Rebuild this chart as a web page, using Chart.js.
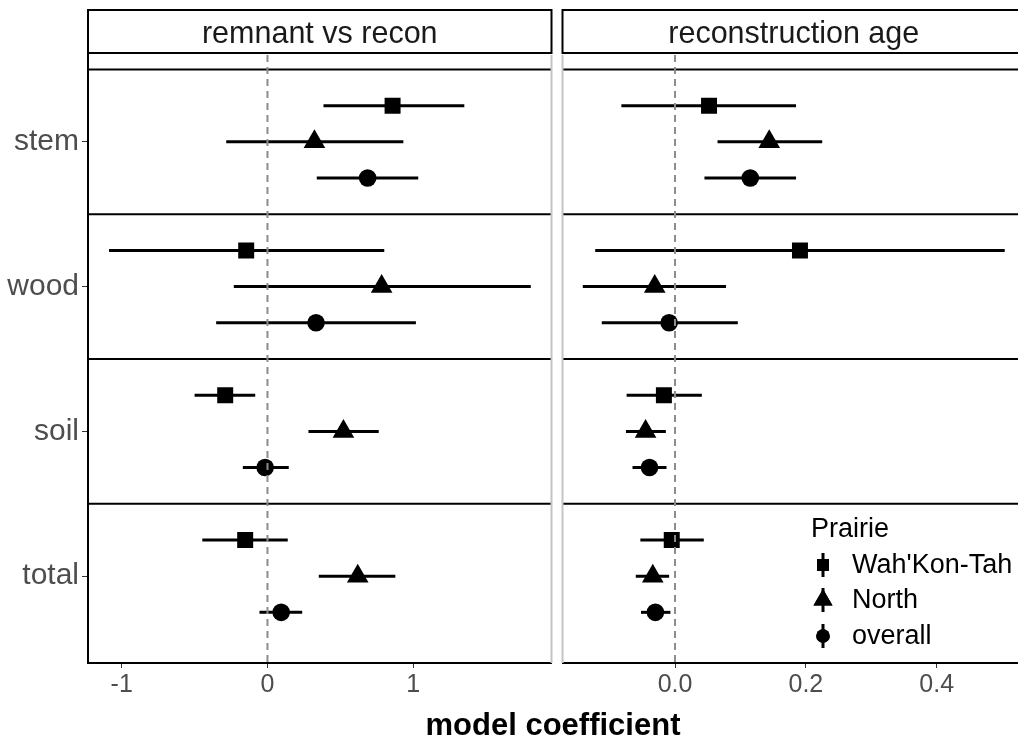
<!DOCTYPE html>
<html>
<head>
<meta charset="utf-8">
<title>model coefficient</title>
<script src="https://cdn.jsdelivr.net/npm/chart.js@4"></script>
<style>
  body { margin: 0; background: #fff; }
  #wrap { position: relative; width: 1018px; height: 742px; overflow: hidden; background: #fff; }
  #leftChart { position: absolute; left: 0; top: 0; }
  #rightChart { position: absolute; left: 553px; top: 0; }
  #xTitle {
    position: absolute; left: 353px; width: 400px; top: 709px;
    text-align: center; font: bold 31px 'Liberation Sans', Arial, sans-serif;
    line-height: 31px; color: #000;
  }
</style>
</head>
<body>
<div id="wrap">
  <canvas id="leftChart" width="553" height="742"></canvas>
  <canvas id="rightChart" width="475" height="742"></canvas>
  <div id="xTitle">model coefficient</div>
</div>
<script>
// Categories (top to bottom) and groups
const categories = ['stem', 'wood', 'soil', 'total'];
const categoryPos = [4, 3, 2, 1];
const prairies = ["Wah'Kon-Tah", 'North', 'overall'];

// remnant vs recon: estimate, lower, upper
const remWah = [0.858, -0.146, -0.290, -0.153];
const remWahLo = [0.384, -1.087, -0.500, -0.447];
const remWahHi = [1.350, 0.801, -0.084, 0.139];
const remNorth = [0.322, 0.783, 0.521, 0.619];
const remNorthLo = [-0.283, -0.231, 0.281, 0.352];
const remNorthHi = [0.932, 1.806, 0.763, 0.877];
const remAll = [0.687, 0.333, -0.016, 0.094];
const remAllLo = [0.338, -0.352, -0.169, -0.055];
const remAllHi = [1.034, 1.018, 0.146, 0.238];

// reconstruction age: estimate, lower, upper
const ageWah = [0.052, 0.191, -0.017, -0.005];
const ageWahLo = [-0.082, -0.122, -0.074, -0.053];
const ageWahHi = [0.185, 0.504, 0.041, 0.044];
const ageNorth = [0.144, -0.031, -0.045, -0.034];
const ageNorthLo = [0.065, -0.141, -0.075, -0.060];
const ageNorthHi = [0.225, 0.078, -0.014, -0.009];
const ageAll = [0.115, -0.009, -0.039, -0.030];
const ageAllLo = [0.045, -0.112, -0.065, -0.052];
const ageAllHi = [0.185, 0.096, -0.013, -0.007];

// tick labels
const remTicks = [-1, 0, 1];
const ageTicks = [0, 0.2, 0.4];

const FONT = "'Liberation Sans', Arial, sans-serif";
const dodge = [0.25, 0, -0.25];
const shapes = ['rect', 'triangle', 'circle'];
const radii = [11.3, 12.5, 8.8];
const separators = [1.5, 2.5, 3.5, 4.5];

function makeDatasets(values, lows, highs) {
    return prairies.map((name, k) => ({
        label: name,
        data: categories.map((c, i) => ({ x: values[k][i], y: categoryPos[i] + dodge[k] })),
        lo: lows[k],
        hi: highs[k],
        pointStyle: shapes[k],
        pointRadius: radii[k],
        pointHoverRadius: radii[k],
        backgroundColor: '#000',
        borderColor: '#000',
        borderWidth: 0
    }));
}

// Error bars, separators, zero line, strip and legend
const facetDecor = {
    id: 'facetDecor',
    beforeDatasetsDraw(chart) {
        const { ctx, scales: { x, y } } = chart;
        ctx.save();
        ctx.strokeStyle = '#000';
        ctx.lineWidth = 3;
        chart.data.datasets.forEach(ds => {
            ds.data.forEach((p, i) => {
                const py = y.getPixelForValue(p.y);
                ctx.beginPath();
                ctx.moveTo(x.getPixelForValue(ds.lo[i]), py);
                ctx.lineTo(x.getPixelForValue(ds.hi[i]), py);
                ctx.stroke();
            });
        });
        ctx.restore();
    },
    afterDatasetsDraw(chart, args, opts) {
        const { ctx, chartArea: a, scales: { x, y } } = chart;
        ctx.save();
        ctx.strokeStyle = '#000';
        ctx.lineWidth = 2;
        separators.forEach(v => {
            const py = y.getPixelForValue(v);
            ctx.beginPath();
            ctx.moveTo(a.left, py);
            ctx.lineTo(a.right, py);
            ctx.stroke();
        });

        // panel edges
        ctx.strokeStyle = '#c4c4c4';
        ctx.beginPath();
        if (opts.edge === 'right') {
            ctx.moveTo(a.right, a.top);
            ctx.lineTo(a.right, a.bottom);
        } else {
            ctx.moveTo(a.left, a.top);
            ctx.lineTo(a.left, a.bottom);
        }
        ctx.stroke();

        // dashed zero line
        const px = x.getPixelForValue(0);
        ctx.strokeStyle = '#8c8c8c';
        ctx.setLineDash([7, 5]);
        ctx.beginPath();
        ctx.moveTo(px, a.top);
        ctx.lineTo(px, a.bottom);
        ctx.stroke();
        ctx.setLineDash([]);

        // strip
        ctx.strokeStyle = '#000';
        ctx.strokeRect(a.left, 10, a.right - a.left, 43);
        ctx.fillStyle = '#1a1a1a';
        ctx.font = '30.5px ' + FONT;
        ctx.textAlign = 'center';
        ctx.textBaseline = 'alphabetic';
        ctx.fillText(opts.stripText, (a.left + a.right) / 2, 43);

        if (opts.legend) drawLegend(chart, opts.legendX);
        ctx.restore();
    }
};

function drawLegend(chart, lx) {
    const ctx = chart.ctx;
    const rows = [565, 600, 636];
    const sizes = [8.5, 11, 6.8];
    ctx.fillStyle = '#000';
    ctx.font = '27px ' + FONT;
    ctx.textAlign = 'left';
    ctx.textBaseline = 'middle';
    ctx.fillText('Prairie', lx, 530);
    prairies.forEach((name, k) => {
        const cx = lx + 12, cy = rows[k];
        ctx.strokeStyle = '#000';
        ctx.lineWidth = 3;
        ctx.beginPath();
        ctx.moveTo(cx, cy - 12);
        ctx.lineTo(cx, cy + 12);
        ctx.stroke();
        Chart.helpers.drawPoint(ctx, { pointStyle: shapes[k], radius: sizes[k], borderWidth: 0 }, cx, cy);
        ctx.fill();
        ctx.fillText(name, lx + 41, cy + 1);
    });
}

function makeChart(canvasId, datasets, xMin, xMax, ticks, fmt, showY, extra) {
    return new Chart(document.getElementById(canvasId), {
        type: 'scatter',
        data: { datasets },
        plugins: [facetDecor],
        options: {
            responsive: false,
            animation: false,
            events: [],
            layout: { autoPadding: false, padding: extra.padding },
            scales: {
                x: {
                    type: 'linear',
                    min: xMin,
                    max: xMax,
                    afterBuildTicks: s => { s.ticks = ticks.map(v => ({ value: v })); },
                    afterFit: s => { s.height = 79; s.paddingLeft = 0; s.paddingRight = 0; },
                    grid: { drawOnChartArea: false, drawTicks: true, tickLength: 5, color: '#333' },
                    border: { display: true, color: '#000', width: 2 },
                    ticks: {
                        color: '#4d4d4d',
                        font: { family: FONT, size: 25 },
                        padding: 2,
                        maxRotation: 0,
                        callback: v => fmt(v)
                    }
                },
                y: {
                    type: 'linear',
                    display: showY,
                    min: 0.4,
                    max: 4.6,
                    afterBuildTicks: s => { s.ticks = categoryPos.map(v => ({ value: v })); },
                    afterFit: s => { s.width = showY ? 88 : 0; s.paddingTop = 0; s.paddingBottom = 0; },
                    grid: { drawOnChartArea: false, drawTicks: true, tickLength: 6, color: '#333' },
                    border: { display: true, color: '#000', width: 2 },
                    ticks: {
                        color: '#4d4d4d',
                        font: { family: FONT, size: 30 },
                        padding: 3,
                        callback: v => categories[categoryPos.indexOf(v)]
                    }
                }
            },
            plugins: {
                legend: { display: false },
                tooltip: { enabled: false },
                facetDecor: extra.decor
            }
        }
    });
}

makeChart('leftChart',
    makeDatasets([remWah, remNorth, remAll], [remWahLo, remNorthLo, remAllLo], [remWahHi, remNorthHi, remAllHi]),
    -1.231, 1.948, remTicks, v => String(v), true,
    { padding: { left: 0, top: 55, right: 1.5, bottom: 0 },
      decor: { stripText: 'remnant vs recon', edge: 'right', legend: false } });

makeChart('rightChart',
    makeDatasets([ageWah, ageNorth, ageAll], [ageWahLo, ageNorthLo, ageAllLo], [ageWahHi, ageNorthHi, ageAllHi]),
    -0.172, 0.535, ageTicks, v => v.toFixed(1), false,
    { padding: { left: 9.5, top: 55, right: 3, bottom: 0 },
      decor: { stripText: 'reconstruction age', edge: 'left', legend: true, legendX: 258 } });
</script>
</body>
</html>
